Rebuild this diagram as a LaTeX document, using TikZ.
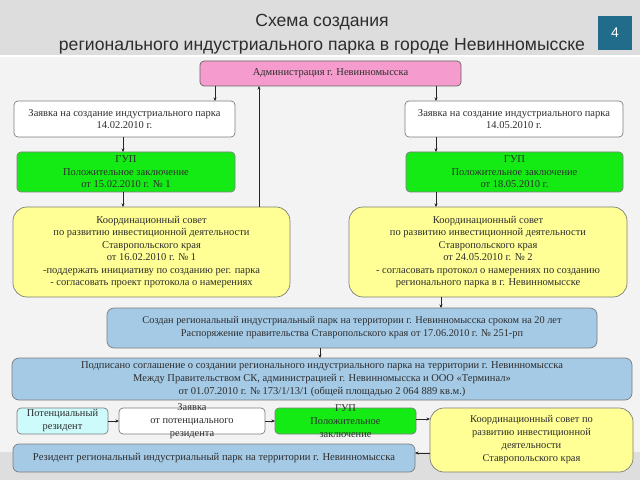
\documentclass[tikz,border=0pt]{standalone}
\usepackage{fontspec}
\setmainfont{Liberation Serif}
\newfontfamily\headfont{Liberation Sans}
\usetikzlibrary{arrows.meta}

\definecolor{schInk}{RGB}{45,45,45}
\definecolor{schLine}{RGB}{125,125,125}
\definecolor{schHead}{RGB}{221,221,221}
\definecolor{schPage}{RGB}{243,243,243}
\definecolor{schFoot}{RGB}{222,222,222}
\definecolor{schBadge}{RGB}{33,108,138}
\definecolor{schPink}{RGB}{245,155,205}
\definecolor{schGreen}{RGB}{20,235,20}
\definecolor{schYellow}{RGB}{255,255,150}
\definecolor{schBlue}{RGB}{165,202,230}
\definecolor{schCyan}{RGB}{205,250,250}

\begin{document}
\begin{tikzpicture}[x=1pt,y=1pt,inner sep=0pt,outer sep=0pt,
  box/.style={draw=schLine,line width=0.7pt,rounded corners=4pt,align=center,text=schInk,font=\fontsize{10.5}{12.5}\selectfont},
  bigbox/.style={box,rounded corners=14pt},
  rowbox/.style={box,font=\fontsize{10.4}{13}\selectfont},
  conn/.style={draw=black!85,line width=0.6pt,-{Stealth[length=3.5pt,width=3pt]}}]
\useasboundingbox (0,0) rectangle (640,480);
\fill[schPage] (0,0) rectangle (640,480);
\fill[schHead] (0,425) rectangle (640,480);
\fill[schFoot] (0,0) rectangle (640,28);
\draw[white,line width=1.5pt] (0,424) -- (640,424);
\node[align=center,text=schInk,font=\headfont\fontsize{17.6}{24}\selectfont] (title) at (322,446) {Схема создания\\регионального индустриального парка в городе Невинномысске};
\node[fill=schBadge,minimum width=34,minimum height=34,text=white,font=\headfont\fontsize{14}{14}\selectfont] (badge) at (615,447) {4};
\coordinate (colA) at (215,0);
\coordinate (colB) at (436,0);
\coordinate (colC) at (123,0);
\coordinate (colD) at (259,0);
\coordinate (colE) at (441,0);
\coordinate (colF) at (320,0);
\node[box,fill=schPink,draw=schLine!80!black,minimum width=261,minimum height=25] (admin) at (330.5,406.5) {Администрация г. Невинномысска};
\node[box,fill=white,minimum width=221,minimum height=36] (reqL) at (124.5,361) {Заявка на создание индустриального парка\\14.02.2010 г.};
\node[box,fill=white,minimum width=218,minimum height=36] (reqR) at (514,361) {Заявка на создание индустриального парка\\14.05.2010 г.};
\node[box,fill=schGreen,minimum width=218,minimum height=40] (gupL) at (126,308) {ГУП\\Положительное заключение\\от 15.02.2010 г. № 1};
\node[box,fill=schGreen,minimum width=217,minimum height=40] (gupR) at (514.5,308) {ГУП\\Положительное заключение\\от 18.05.2010 г.};
\node[bigbox,fill=schYellow,minimum width=277,minimum height=90] (coordL) at (151.5,228) {Координационный совет\\по развитию инвестиционной деятельности\\Ставропольского края\\от 16.02.2010 г. № 1\\-поддержать инициативу по созданию рег. парка\\- согласовать проект протокола о намерениях};
\node[bigbox,fill=schYellow,minimum width=278,minimum height=90] (coordR) at (488,228) {Координационный совет\\по развитию инвестиционной деятельности\\Ставропольского края\\от 24.05.2010 г. № 2\\- согласовать протокол о намерениях по созданию\\регионального парка в г. Невинномысске};
\node[box,fill=schBlue,rounded corners=7pt,font=\fontsize{10.3}{13}\selectfont,minimum width=490,minimum height=40] (decree) at (352,152) {Создан региональный индустриальный парк на территории г. Невинномысска сроком на 20 лет\\Распоряжение правительства Ставропольского края от 17.06.2010 г. № 251-рп};
\node[box,fill=schBlue,rounded corners=7pt,font=\fontsize{10.5}{13}\selectfont,minimum width=620,minimum height=42] (agree) at (322,101) {Подписано соглашение о создании регионального индустриального парка на территории г. Невинномысска\\Между Правительством СК, администрацией г. Невинномысска и ООО «Терминал»\\от 01.07.2010 г. № 173/1/13/1 (общей площадью 2 064 889 кв.м.)};
\node[rowbox,fill=schCyan,minimum width=91,minimum height=26] (potRes) at (62.5,59) {Потенциальный\\резидент};
\node[rowbox,fill=white,minimum width=146,minimum height=26] (reqRes) at (192,59) {};
\node[align=center,text=schInk,font=\fontsize{10.4}{13}\selectfont] (reqResText) at (192,59) {Заявка\\от потенциального\\резидента};
\node[rowbox,fill=schGreen,minimum width=141,minimum height=26] (gupRes) at (345.5,59) {};
\node[align=center,text=schInk,font=\fontsize{10.4}{13}\selectfont] (gupResText) at (345.5,59) {ГУП\\Положительное\\заключение};
\node[bigbox,fill=schYellow,font=\fontsize{10.4}{13}\selectfont,minimum width=203,minimum height=64] (coordRes) at (531.5,40) {Координационный совет по\\развитию инвестиционной\\деятельности\\Ставропольского края};
\node[rowbox,fill=schBlue,rounded corners=6pt,font=\fontsize{10.6}{13}\selectfont,minimum width=402,minimum height=28] (resident) at (214,22) {Резидент региональный индустриальный парк на территории г. Невинномысска};
\draw[conn] (admin.south -| colA) -- (reqL.north -| colA);
\draw[conn] (admin.south -| colB) -- (reqR.north -| colB);
\draw[conn] (coordL.north -| colD) -- (admin.south -| colD);
\draw[conn] (reqL.south -| colC) -- (gupL.north -| colC);
\draw[conn] (gupL.south -| colC) -- (coordL.north -| colC);
\draw[conn] (reqR.south -| colB) -- (gupR.north -| colB);
\draw[conn] (gupR.south -| colB) -- (coordR.north -| colB);
\draw[conn] (coordR.south -| colE) -- (decree.north -| colE);
\draw[conn] (decree.south -| colF) -- (agree.north -| colF);
\draw[conn] (potRes.east) -- (reqRes.west);
\draw[conn] (reqRes.east) -- (gupRes.west);
\draw[conn] ([yshift=2]gupRes.east) -- ([yshift=2]coordRes.west |- gupRes.east);
\draw[conn] ([yshift=5]coordRes.west |- resident.east) -- ([yshift=5]resident.east);
\end{tikzpicture}
\end{document}
